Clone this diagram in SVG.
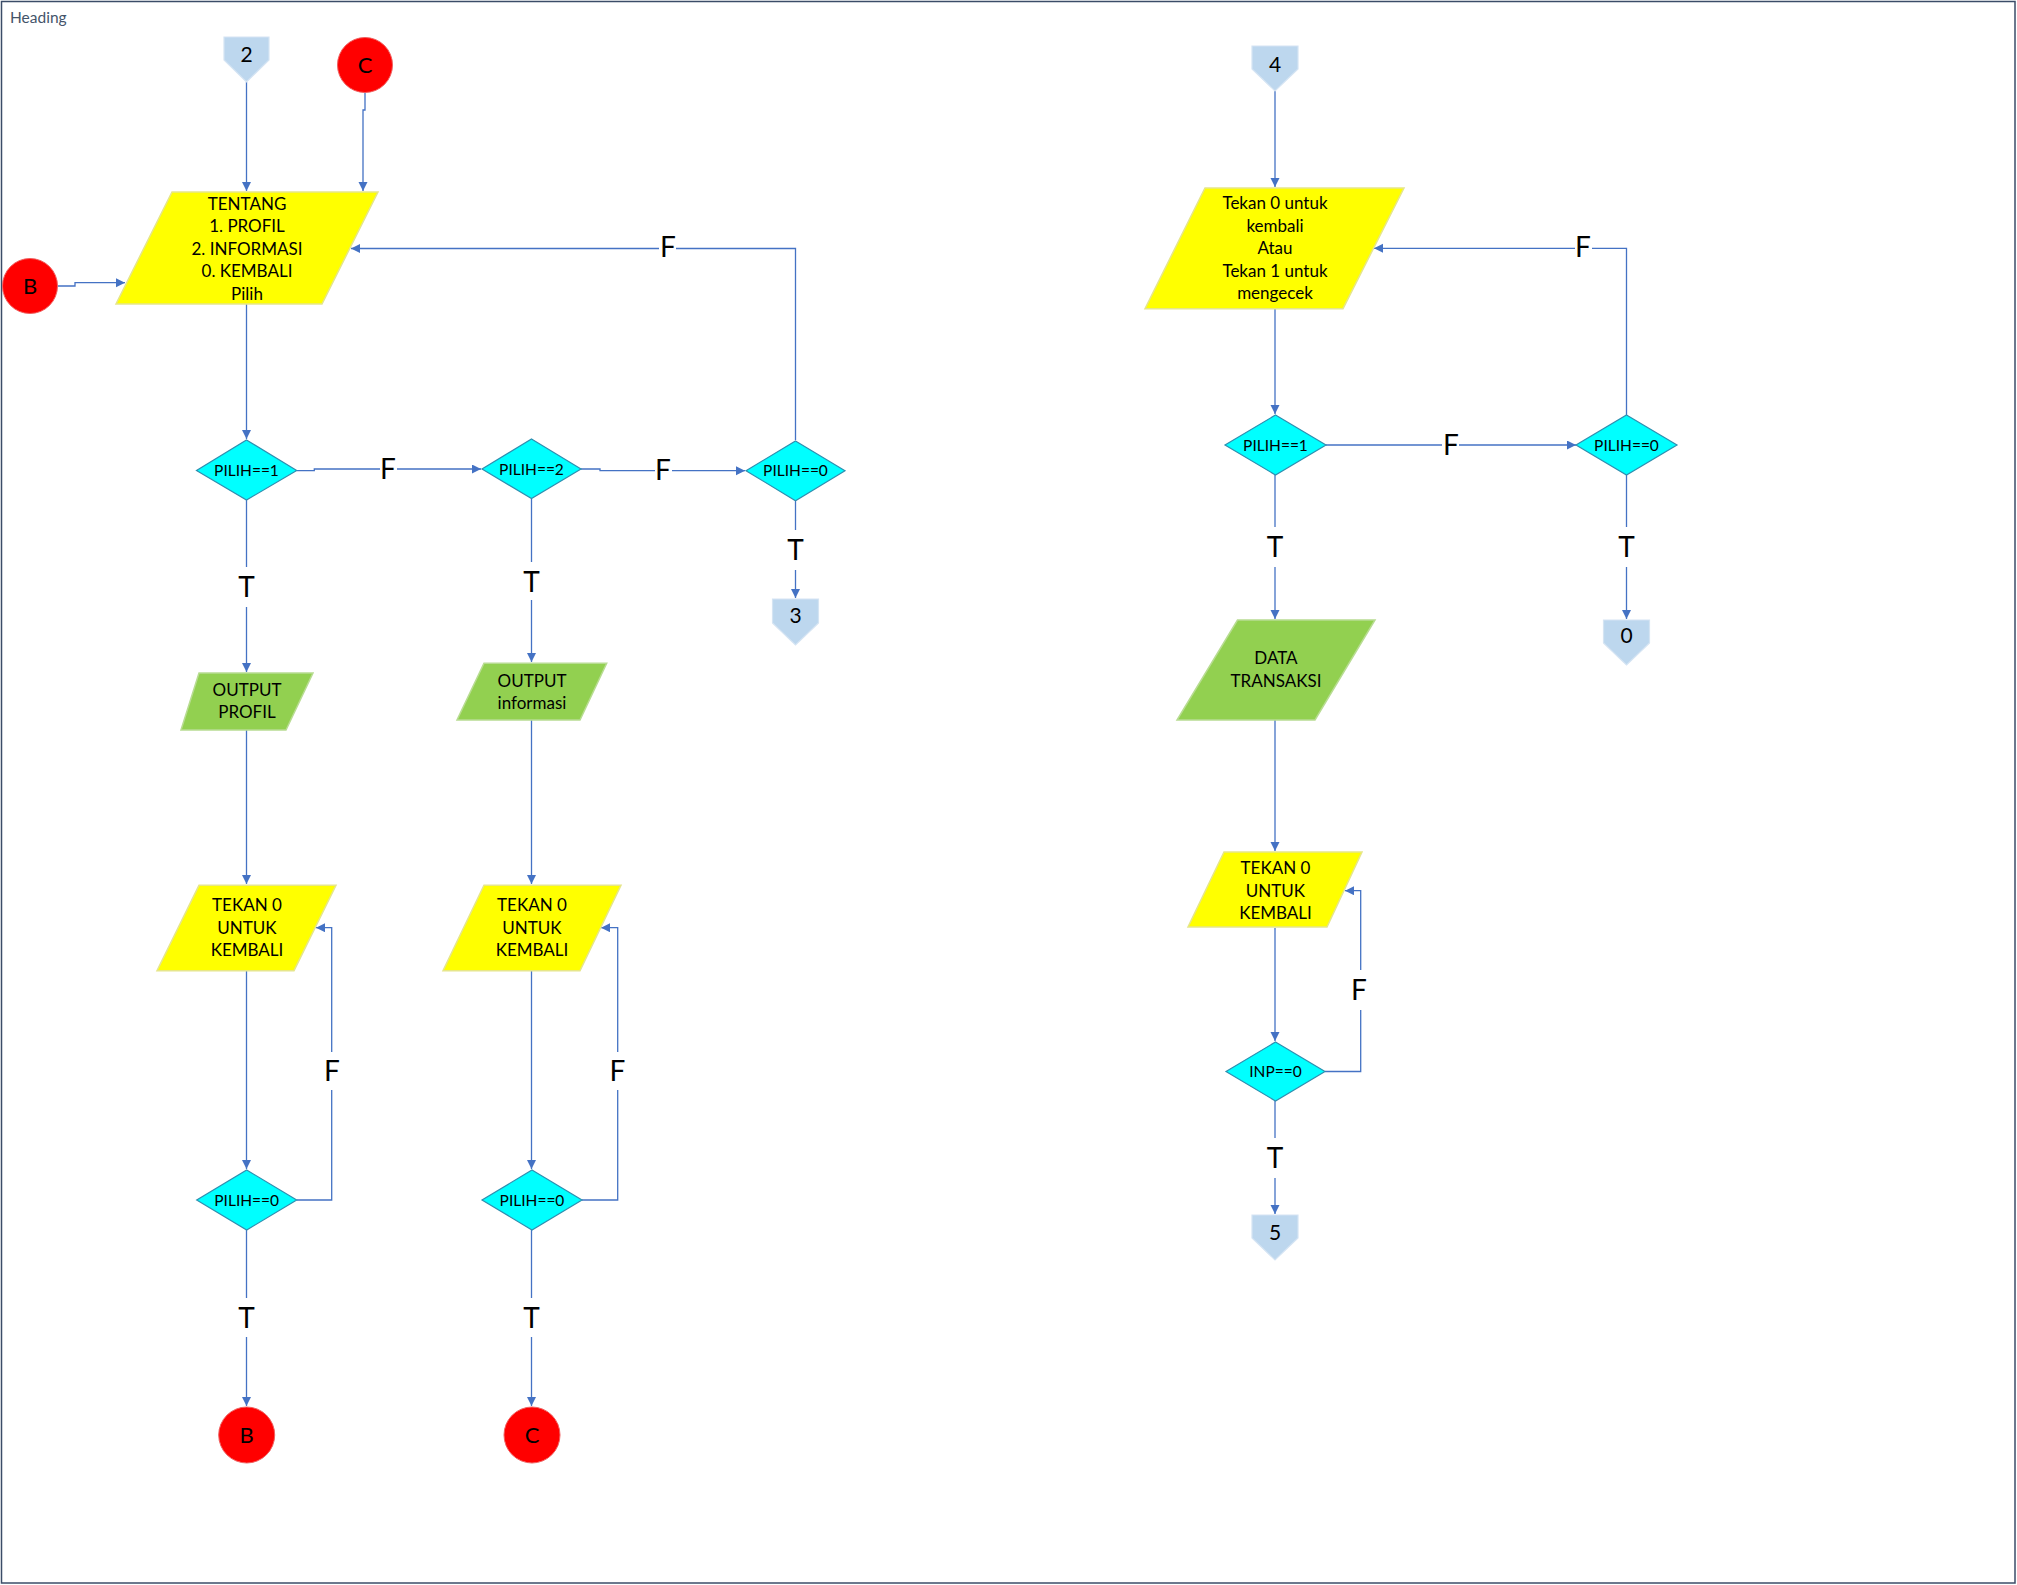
<svg xmlns="http://www.w3.org/2000/svg" width="2017" height="1585" viewBox="0 0 2017 1585">
<style>
text{font-family:Lato,"Liberation Sans",sans-serif;fill:#000;text-anchor:middle}
.nt{font-size:17px}
.dt{font-size:15.5px}
.ot{font-size:21px}
.ct{font-size:22px}
.lb{font-size:28px}
.yel{fill:#FFFF00;stroke:#E6E68A;stroke-width:1.5}
.grn{fill:#92D050;stroke:#B8DC92;stroke-width:1.5}
.dia{fill:#00FFFF;stroke:#2E8FB0;stroke-width:1.2}
.off{fill:#BDD7EE;stroke:#D5E4F3;stroke-width:1.2}
.cir{fill:#FF0000;stroke:#F06060;stroke-width:1}
.ln{fill:none;stroke:#4472C4;stroke-width:1.3}
.arr{marker-end:url(#ah)}
.bg{fill:#fff}
</style>
<defs>
<marker id="ah" markerUnits="userSpaceOnUse" markerWidth="10" markerHeight="10" refX="9" refY="4.5" orient="auto">
<path d="M0,0 L9,4.5 L0,9 z" fill="#4472C4"/>
</marker>
</defs>
<rect x="0" y="0" width="2017" height="1585" fill="#fff"/>
<rect x="1.5" y="1.5" width="2013.5" height="1581.5" fill="none" stroke="#3B4C68" stroke-width="1.5"/>
<text x="10" y="23" style="font-size:15.5px;fill:#44546A;text-anchor:start">Heading</text>

<g id="connectors">
<path class="ln arr" d="M246.5,82 V191"/>
<path class="ln arr" d="M365,93 V110 H363 V191"/>
<path class="ln arr" d="M58,286 H75 V282.7 H125"/>
<path class="ln arr" d="M246.5,304 V439"/>
<path class="ln arr" d="M296.7,470.7 H314.3 V469 H481"/>
<path class="ln arr" d="M581,469 H600 V470.7 H745"/>
<path class="ln arr" d="M795.5,440 V248.5 H351"/>
<path class="ln arr" d="M246.5,500 V672"/>
<path class="ln arr" d="M531.5,498.5 V662"/>
<path class="ln arr" d="M795.5,500.7 V598"/>
<path class="ln arr" d="M246.5,730 V884"/>
<path class="ln arr" d="M531.5,720 V884"/>
<path class="ln arr" d="M246.5,971 V1169"/>
<path class="ln arr" d="M531.5,971 V1169"/>
<path class="ln arr" d="M296.7,1200 H331.7 V927.7 H316"/>
<path class="ln arr" d="M582,1200 H617.7 V927.7 H601"/>
<path class="ln arr" d="M246.5,1230 V1406"/>
<path class="ln arr" d="M531.5,1230 V1406"/>

<path class="ln arr" d="M1275,90 V187"/>
<path class="ln arr" d="M1275,309 V414"/>
<path class="ln arr" d="M1326,445 H1576"/>
<path class="ln arr" d="M1626.5,415 V248.3 H1374"/>
<path class="ln arr" d="M1275,475 V619"/>
<path class="ln arr" d="M1626.5,475 V619"/>
<path class="ln arr" d="M1275,720 V851"/>
<path class="ln arr" d="M1275,928 V1041"/>
<path class="ln arr" d="M1325,1071.5 H1360.7 V890.7 H1345"/>
<path class="ln arr" d="M1275,1101 V1214"/>

<rect class="bg" x="380" y="455" width="17" height="30"/><text class="lb" x="388" y="479">F</text>
<rect class="bg" x="655" y="456" width="17" height="30"/><text class="lb" x="663" y="480">F</text>
<rect class="bg" x="659" y="233" width="17" height="30"/><text class="lb" x="668" y="257">F</text>
<rect class="bg" x="236" y="567" width="21" height="40"/><text class="lb" x="246.5" y="597">T</text>
<rect class="bg" x="521" y="562" width="21" height="38"/><text class="lb" x="531.5" y="592">T</text>
<rect class="bg" x="785" y="530" width="21" height="40"/><text class="lb" x="795.5" y="560">T</text>
<rect class="bg" x="323" y="1052" width="17" height="38"/><text class="lb" x="332" y="1081">F</text>
<rect class="bg" x="609" y="1052" width="17" height="38"/><text class="lb" x="617.5" y="1081">F</text>
<rect class="bg" x="236" y="1298" width="21" height="39"/><text class="lb" x="246.5" y="1328">T</text>
<rect class="bg" x="521" y="1298" width="21" height="39"/><text class="lb" x="531.5" y="1328">T</text>

<rect class="bg" x="1442" y="431" width="17" height="30"/><text class="lb" x="1451" y="455">F</text>
<rect class="bg" x="1575" y="233" width="17" height="30"/><text class="lb" x="1583" y="257">F</text>
<rect class="bg" x="1265" y="527" width="21" height="40"/><text class="lb" x="1275" y="557">T</text>
<rect class="bg" x="1616" y="527" width="21" height="40"/><text class="lb" x="1626.5" y="557">T</text>
<rect class="bg" x="1350" y="970" width="17" height="40"/><text class="lb" x="1359" y="1000">F</text>
<rect class="bg" x="1265" y="1138" width="21" height="40"/><text class="lb" x="1275" y="1168">T</text>
</g>

<g id="off2"><path class="off" d="M224,37 H269 V60 L246.5,82 L224,60 z"/><text class="ot" x="246.5" y="61.5">2</text></g>
<g id="circC_top"><circle class="cir" cx="365" cy="65" r="27.5"/><text class="ct" x="365" y="73">C</text></g>
<g id="circB_left"><circle class="cir" cx="30" cy="286" r="27.5"/><text class="ct" x="30" y="294">B</text></g>
<g id="menuTentang"><path class="yel" d="M172,192 H378 L322,304 H116 z"/>
<text class="nt" x="247" y="209.5">TENTANG</text>
<text class="nt" x="247" y="232">1. PROFIL</text>
<text class="nt" x="247" y="254.5">2. INFORMASI</text>
<text class="nt" x="247" y="277">0. KEMBALI</text>
<text class="nt" x="247" y="299.5">Pilih</text></g>
<g id="dPilih1"><path class="dia" d="M246.5,440 L296.7,470.5 L246.5,500 L196.5,470.5 z"/><text class="dt" x="246.5" y="476">PILIH==1</text></g>
<g id="dPilih2"><path class="dia" d="M531.5,439 L581,469 L531.5,498.5 L482,469 z"/><text class="dt" x="531.5" y="474.5">PILIH==2</text></g>
<g id="dPilih0top"><path class="dia" d="M795.5,441 L845,470.7 L795.5,500.7 L746,470.7 z"/><text class="dt" x="795.5" y="476">PILIH==0</text></g>
<g id="off3"><path class="off" d="M772.5,599 H818.5 V623 L795.5,645 L772.5,623 z"/><text class="ot" x="795.5" y="622.5">3</text></g>
<g id="outProfil"><path class="grn" d="M199,673 H313 L286,730 H181 z"/>
<text class="nt" x="247" y="696">OUTPUT</text><text class="nt" x="247" y="718">PROFIL</text></g>
<g id="outInfo"><path class="grn" d="M484,663.3 H606.7 L580,720 H457 z"/>
<text class="nt" x="532" y="687">OUTPUT</text><text class="nt" x="532" y="709">informasi</text></g>
<g id="tekanL"><path class="yel" d="M199,885.3 H336 L294,970.7 H157 z"/>
<text class="nt" x="247" y="911">TEKAN 0</text><text class="nt" x="247" y="934">UNTUK</text><text class="nt" x="247" y="956">KEMBALI</text></g>
<g id="tekanM"><path class="yel" d="M484,885.3 H621 L580,970.7 H443 z"/>
<text class="nt" x="532" y="911">TEKAN 0</text><text class="nt" x="532" y="934">UNTUK</text><text class="nt" x="532" y="956">KEMBALI</text></g>
<g id="dPilih0L"><path class="dia" d="M246.7,1170 L296.7,1200 L246.7,1230 L196.7,1200 z"/><text class="dt" x="246.7" y="1205.5">PILIH==0</text></g>
<g id="dPilih0M"><path class="dia" d="M532,1170 L582,1200 L532,1230 L482,1200 z"/><text class="dt" x="532" y="1205.5">PILIH==0</text></g>
<g id="circB_bot"><circle class="cir" cx="246.7" cy="1435" r="28"/><text class="ct" x="246.7" y="1443">B</text></g>
<g id="circC_bot"><circle class="cir" cx="532" cy="1435" r="28"/><text class="ct" x="532" y="1443">C</text></g>

<g id="off4"><path class="off" d="M1252,46 H1298 V69 L1275,91 L1252,69 z"/><text class="ot" x="1275" y="71.5">4</text></g>
<g id="menuCek"><path class="yel" d="M1205,188 H1404 L1343,308.7 H1145 z"/>
<text class="nt" x="1275" y="209">Tekan 0 untuk</text>
<text class="nt" x="1275" y="231.5">kembali</text>
<text class="nt" x="1275" y="254">Atau</text>
<text class="nt" x="1275" y="276.5">Tekan 1 untuk</text>
<text class="nt" x="1275" y="299">mengecek</text></g>
<g id="dPilih1R"><path class="dia" d="M1275.5,415 L1326,445 L1275.5,475 L1225,445 z"/><text class="dt" x="1275.5" y="450.5">PILIH==1</text></g>
<g id="dPilih0R"><path class="dia" d="M1626.5,415 L1677,445 L1626.5,475 L1576,445 z"/><text class="dt" x="1626.5" y="450.5">PILIH==0</text></g>
<g id="off0"><path class="off" d="M1603.5,620 H1649.5 V643 L1626.5,665 L1603.5,643 z"/><text class="ot" x="1626.5" y="642.5">0</text></g>
<g id="dataTransaksi"><path class="grn" d="M1237.5,620 H1375 L1315,720 H1177 z"/>
<text class="nt" x="1276" y="664">DATA</text><text class="nt" x="1276" y="687">TRANSAKSI</text></g>
<g id="tekanR"><path class="yel" d="M1224,852 H1362 L1327,927 H1188 z"/>
<text class="nt" x="1275.5" y="874">TEKAN 0</text><text class="nt" x="1275.5" y="896.5">UNTUK</text><text class="nt" x="1275.5" y="919">KEMBALI</text></g>
<g id="dInp"><path class="dia" d="M1275.5,1042 L1325,1071.5 L1275.5,1101 L1226,1071.5 z"/><text class="dt" x="1275.5" y="1077">INP==0</text></g>
<g id="off5"><path class="off" d="M1252,1215 H1298 V1238 L1275,1260 L1252,1238 z"/><text class="ot" x="1275" y="1239.5">5</text></g>
</svg>
